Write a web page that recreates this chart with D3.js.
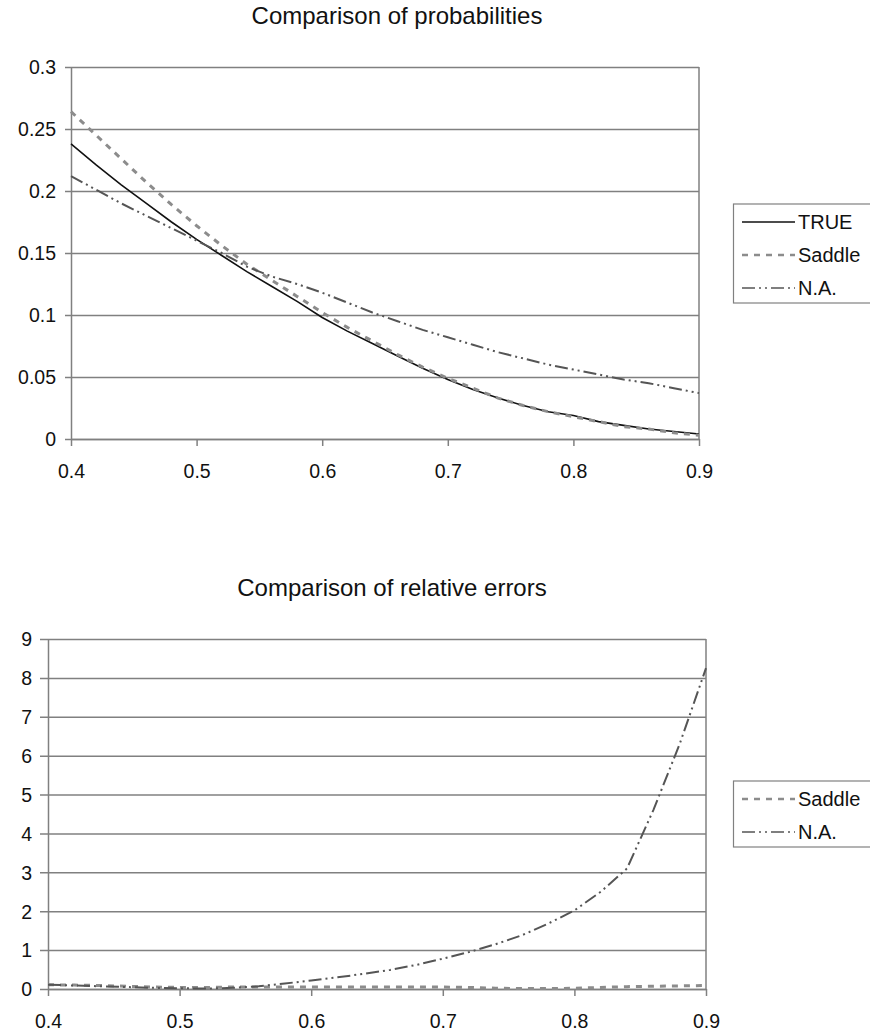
<!DOCTYPE html>
<html>
<head>
<meta charset="utf-8">
<script src="https://d3js.org/d3.v7.min.js"></script>
<style>
  body { margin: 0; background: #fff; }
  svg { display: block; font-family: "Liberation Sans", Arial, sans-serif; }
  .domain { stroke: #808080; stroke-width: 1.5; }
  .tick line { stroke: #808080; stroke-width: 1.5; }
  .tick text { fill: #111; font-size: 19.5px; }
</style>
</head>
<body>
<div id="chart"></div>
<script>
// x values shared by both charts
const xValues = [0.40, 0.42, 0.44, 0.46, 0.48, 0.50, 0.52, 0.54, 0.56, 0.58, 0.60, 0.62, 0.64,
                 0.66, 0.68, 0.70, 0.72, 0.74, 0.76, 0.78, 0.80, 0.82, 0.84, 0.86, 0.88, 0.90];

// Comparison of probabilities
const trueProb   = [0.238, 0.221, 0.205, 0.190, 0.175, 0.161, 0.148, 0.135, 0.123, 0.111, 0.098, 0.087, 0.077,
                    0.067, 0.057, 0.048, 0.040, 0.033, 0.027, 0.022, 0.019, 0.014, 0.011, 0.008, 0.006, 0.004];
const saddleProb = [0.264, 0.245, 0.226, 0.207, 0.189, 0.172, 0.156, 0.141, 0.128, 0.115, 0.102, 0.090, 0.079,
                    0.068, 0.058, 0.049, 0.041, 0.033, 0.027, 0.022, 0.018, 0.014, 0.010, 0.008, 0.005, 0.003];
const naProb     = [0.212, 0.201, 0.190, 0.180, 0.170, 0.160, 0.150, 0.139, 0.131, 0.125, 0.118, 0.110, 0.102,
                    0.095, 0.088, 0.082, 0.076, 0.070, 0.065, 0.060, 0.056, 0.052, 0.048, 0.045, 0.041, 0.037];

// Comparison of relative errors
const saddleErr = [0.11, 0.10, 0.09, 0.07, 0.05, 0.04, 0.04, 0.05, 0.05, 0.05, 0.05, 0.05, 0.05,
                   0.05, 0.05, 0.05, 0.04, 0.02, 0.01, 0.01, 0.02, 0.04, 0.06, 0.07, 0.08, 0.09];
const naErr     = [0.11, 0.09, 0.07, 0.05, 0.03, 0.02, 0.01, 0.03, 0.07, 0.14, 0.22, 0.30, 0.39,
                   0.49, 0.62, 0.78, 0.95, 1.15, 1.38, 1.68, 2.02, 2.50, 3.10, 4.60, 6.30, 8.25];

const xTicks = [0.4, 0.5, 0.6, 0.7, 0.8, 0.9];
const probTicks = [0, 0.05, 0.1, 0.15, 0.2, 0.25, 0.3];
const errTicks = [0, 1, 2, 3, 4, 5, 6, 7, 8, 9];

const styles = {
    "TRUE":   { color: "#111", width: 1.6, dash: null },
    "Saddle": { color: "#8c8c8c", width: 3, dash: "6,6" },
    "N.A.":   { color: "#555", width: 2, dash: "13,4,2,4,2,4" }
};

const svg = d3.select("#chart").append("svg")
    .attr("width", 870)
    .attr("height", 1032);

function drawChart(opt) {
    const x = d3.scaleLinear().domain([0.4, 0.9]).range([opt.left, opt.right]);
    const y = d3.scaleLinear().domain(opt.yDomain).range([opt.bottom, opt.top]);

    const g = svg.append("g");

    // title
    g.append("text")
        .attr("x", opt.titleX)
        .attr("y", opt.titleY)
        .attr("text-anchor", "middle")
        .style("font-size", "24px")
        .style("fill", "#111")
        .text(opt.title);

    // horizontal gridlines + y axis
    const yAxis = g.append("g")
        .attr("transform", `translate(${opt.left},0)`)
        .call(d3.axisLeft(y).tickValues(opt.yTicks).tickSize(opt.left - opt.right)
            .tickSizeOuter(0).tickPadding(0).tickFormat(d3.format("")));
    yAxis.selectAll(".tick line").attr("x1", -opt.tickLen);
    yAxis.selectAll(".tick text")
        .attr("x", -opt.yLabelGap)
        .attr("dy", "0.35em");

    // right border of plot area
    g.append("line")
        .attr("x1", opt.right).attr("x2", opt.right)
        .attr("y1", opt.top).attr("y2", opt.bottom)
        .attr("stroke", "#808080").attr("stroke-width", 1.5);

    // x axis
    const xAxis = g.append("g")
        .attr("transform", `translate(0,${opt.bottom})`)
        .call(d3.axisBottom(x).tickValues(xTicks).tickSize(7).tickSizeOuter(0)
            .tickFormat(d3.format("")));
    xAxis.selectAll(".tick text")
        .attr("y", opt.xLabelGap)
        .attr("dy", 0);

    // series
    const line = d3.line()
        .x((d, i) => x(xValues[i]))
        .y(d => y(d));

    opt.series.forEach(s => {
        const st = styles[s.name];
        g.append("path")
            .datum(s.values)
            .attr("fill", "none")
            .attr("stroke", st.color)
            .attr("stroke-width", st.width)
            .attr("stroke-dasharray", st.dash)
            .attr("d", line);
    });

    // legend
    const legend = g.append("g");
    legend.append("rect")
        .attr("x", 733.5)
        .attr("y", opt.legendTop)
        .attr("width", 150)
        .attr("height", opt.series.length * 33)
        .attr("fill", "#fff")
        .attr("stroke", "#808080")
        .attr("stroke-width", 1.2);

    opt.series.forEach((s, i) => {
        const st = styles[s.name];
        const ly = opt.legendTop + 18 + i * 33;
        legend.append("line")
            .attr("x1", 742).attr("x2", 795)
            .attr("y1", ly).attr("y2", ly)
            .attr("stroke", st.color)
            .attr("stroke-width", s.name === "Saddle" ? 2.5 : Math.min(st.width, 1.6))
            .attr("stroke-dasharray", st.dash);
        legend.append("text")
            .attr("x", 798)
            .attr("y", ly)
            .attr("dy", "0.35em")
            .style("font-size", "20px")
            .style("fill", "#111")
            .text(s.name);
    });
}

drawChart({
    title: "Comparison of probabilities",
    titleX: 397, titleY: 24,
    left: 71, right: 699, top: 67, bottom: 439,
    yDomain: [0, 0.3], yTicks: probTicks,
    tickLen: 6, yLabelGap: 15, xLabelGap: 39,
    legendTop: 204,
    series: [
        { name: "TRUE", values: trueProb },
        { name: "Saddle", values: saddleProb },
        { name: "N.A.", values: naProb }
    ]
});

drawChart({
    title: "Comparison of relative errors",
    titleX: 392, titleY: 596,
    left: 48, right: 706, top: 639, bottom: 989,
    yDomain: [0, 9], yTicks: errTicks,
    tickLen: 8, yLabelGap: 16, xLabelGap: 39,
    legendTop: 781,
    series: [
        { name: "Saddle", values: saddleErr },
        { name: "N.A.", values: naErr }
    ]
});
</script>
</body>
</html>
